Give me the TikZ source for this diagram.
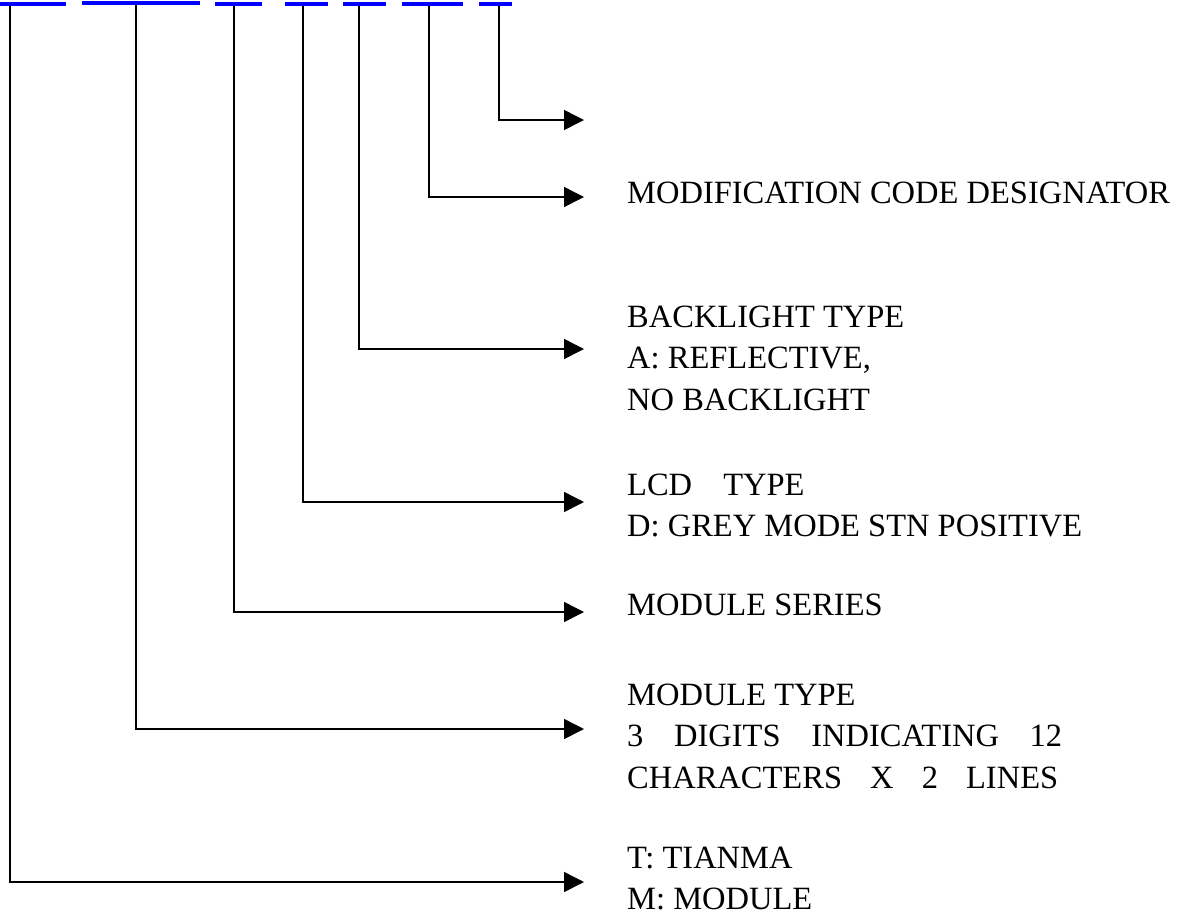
\documentclass[tikz,border=0pt]{standalone}
\usepackage{fontspec}
\setmainfont{Liberation Serif}
\usetikzlibrary{arrows.meta}
\definecolor{barblue}{RGB}{0,0,255}
\begin{document}
\begin{tikzpicture}[x=1pt,y=-1pt,
  codebar/.style={fill=barblue,draw=none,inner sep=0pt,minimum height=4.5pt,anchor=west},
  conn/.style={draw=black,line width=1.5pt,-{Triangle[length=20pt,width=20pt]}},
  lbl/.style={anchor=base west,inner sep=0pt,font=\fontsize{32.5}{41.5}\selectfont}]
\useasboundingbox (0,0) rectangle (1190,916);
% code segments
\node[codebar,minimum width=66pt] (b1) at (0,4) {};
\node[codebar,minimum width=118pt] (b2) at (82,3) {};
\node[codebar,minimum width=47pt] (b3) at (215,4) {};
\node[codebar,minimum width=43pt] (b4) at (285,4) {};
\node[codebar,minimum width=43pt] (b5) at (343,4) {};
\node[codebar,minimum width=61pt] (b6) at (402,4) {};
\node[codebar,minimum width=33pt] (b7) at (479,4) {};
% arrow ends
\coordinate (e7) at (584,120);
\coordinate (e6) at (584,197);
\coordinate (e5) at (584,349);
\coordinate (e4) at (584,502);
\coordinate (e3) at (584,612);
\coordinate (e2) at (584,729);
\coordinate (e1) at (584,882);
% labels
\node[lbl] (t6) at (627,203) {MODIFICATION CODE DESIGNATOR};
\node[lbl] (t5) at (627,327) {\begin{tabular}[t]{@{}l@{}}BACKLIGHT TYPE\\A: REFLECTIVE,\\NO BACKLIGHT\end{tabular}};
\node[lbl] (t4) at (627,495) {\begin{tabular}[t]{@{}l@{}}LCD\hspace{23pt} TYPE\\D: GREY MODE STN POSITIVE\end{tabular}};
\node[lbl] (t3) at (627,615) {MODULE SERIES};
\node[lbl] (t2) at (627,705) {\begin{tabular}[t]{@{}l@{}}MODULE TYPE\\\hbox to 435pt{3\hfill DIGITS\hfill INDICATING\hfill 12}\\\hbox to 431pt{CHARACTERS\hfill X\hfill 2\hfill LINES}\end{tabular}};
\node[lbl] (t1) at (627,868) {\begin{tabular}[t]{@{}l@{}}T: TIANMA\\M: MODULE\end{tabular}};
% connectors
\draw[conn] ([xshift=10pt]b1.south west) |- (e1);
\draw[conn] ([xshift=54pt]b2.south west) |- (e2);
\draw[conn] ([xshift=19pt]b3.south west) |- (e3);
\draw[conn] ([xshift=18pt]b4.south west) |- (e4);
\draw[conn] ([xshift=16pt]b5.south west) |- (e5);
\draw[conn] ([xshift=27pt]b6.south west) |- (e6);
\draw[conn] ([xshift=20pt]b7.south west) |- (e7);
\end{tikzpicture}
\end{document}
